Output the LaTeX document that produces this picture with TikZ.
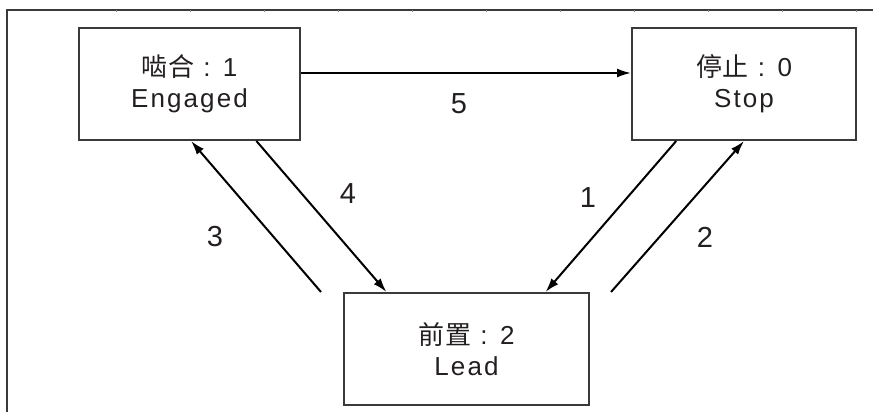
\documentclass[tikz,border=0pt]{standalone}
\usepackage{fontspec}
\setmainfont{Liberation Sans}[LetterSpace=8]
\newfontfamily\cjkfont{Noto Sans CJK SC}[LetterSpace=2]
\usetikzlibrary{arrows.meta,calc}
\definecolor{Ink}{HTML}{231F20}
\definecolor{Frame}{HTML}{3A3A3A}
\definecolor{Tick}{HTML}{8A8A8A}

\begin{document}
\begin{tikzpicture}[x=1pt,y=-1pt,
  every node/.style={text=Ink,font=\fontsize{26}{31}\selectfont},
  state/.style={draw=Frame,line width=2pt,align=center,inner sep=0pt},
  trans/.style={line width=2pt,-{Latex[length=14pt,width=9pt]}},
  num/.style={font=\fontsize{29}{30}\selectfont,inner sep=0pt}]
\useasboundingbox (0,0) rectangle (873,412);
% outer frame with the small ticks
\draw[Frame,line width=1.5pt] (7,412)--(7,10)--(873,10);
\foreach \i in {0,...,10} \draw[Tick,line width=1pt] (116+74*\i,10)--++(0,2.5);
% states
\node[state,minimum width=221pt,minimum height=112pt] (eng) at (189.5,84) {{\cjkfont 啮合} : 1\\Engaged};
\node[state,minimum width=224pt,minimum height=112pt] (stop) at (744,84) {{\cjkfont 停止} : 0\\Stop};
\node[state,minimum width=245pt,minimum height=112pt] (lead) at (466.5,349) {{\cjkfont 前置} : 2\\Lead};
% free ends beside the lead box
\coordinate (f3) at ($(lead.north west)+(-22,0)$);
\coordinate (f2) at ($(lead.north east)+(21,0)$);
% transitions
\draw[trans] ($(eng.east)+(0,-11)$) -- ($(stop.west)+(0,-11)$);
\draw[trans] ($(stop.south west)!.20!(stop.south east)$) -- ($(lead.north west)!.82!(lead.north east)$);
\draw[trans] (f2) -- (stop.south);
\draw[trans] (f3) -- ($(eng.south west)!.507!(eng.south east)$);
\draw[trans] ($(eng.south west)!.80!(eng.south east)$) -- ($(lead.north west)!.176!(lead.north east)$);
\node[num] (n5) at (459,104) {5};
\node[num] (n4) at (348,194) {4};
\node[num] (n3) at (215,237) {3};
\node[num] (n1) at (588,198) {1};
\node[num] (n2) at (705,237) {2};
\end{tikzpicture}
\end{document}
